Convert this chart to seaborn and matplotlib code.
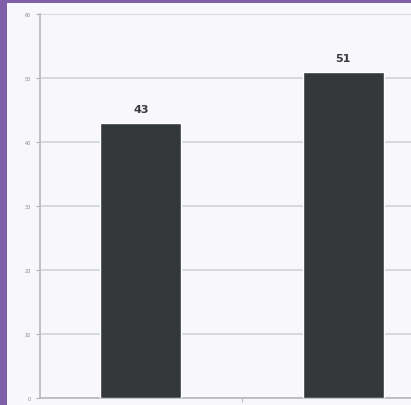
import matplotlib
matplotlib.use("Agg")
import matplotlib.pyplot as plt
import seaborn as sns
import pandas as pd

# data
categories = ["first", "second"]
values = [43, 51]
y_ticks = [0, 10, 20, 30, 40, 50, 60]

sns.set_theme(style="white")
plt.rcParams['font.family'] = ['DejaVu Sans']

W, H = 411, 406
fig = plt.figure(figsize=(W / 100, H / 100), dpi=100)
fig.patch.set_facecolor("#7f60a8")

# white page with purple frame on left and top
page = fig.add_axes([7 / W, 0, 1 - 7 / W, 1 - 4 / H], zorder=0)
page.set_facecolor("#f8f8fc")
page.set_xticks([])
page.set_yticks([])
for s in page.spines.values():
    s.set_visible(False)

# axes runs past the right edge of the picture (cropped chart)
ax = fig.add_axes([39.5 / W, 7 / H, 405 / W, 384 / H], zorder=1)
ax.set_facecolor("none")

df = pd.DataFrame({"category": categories, "value": values})
sns.barplot(data=df, x="category", y="value", color="#34383b",
            width=0.4, saturation=1, ax=ax, zorder=3)

ax.set_ylim(0, 60)
ax.set_xlim(-0.5, 1.5)
ax.set_yticks(y_ticks)
ax.set_yticklabels([str(t) for t in y_ticks], fontsize=3.5, color="#8a8a8a")
ax.tick_params(axis="y", length=3, width=0.8, color="#b0b0b0", pad=3, left=True)
ax.set_xticks([0.5])
ax.set_xticklabels([""])
ax.tick_params(axis="x", length=3, width=0.8, color="#c0c0c4", bottom=True)
ax.set_xlabel("")
ax.set_ylabel("")
ax.yaxis.grid(True, color="#d2d3d7", linewidth=1.2, zorder=0)
ax.set_axisbelow(True)

for side in ["top", "right"]:
    ax.spines[side].set_visible(False)
ax.spines["left"].set_color("#b8b8bc")
ax.spines["left"].set_linewidth(1.2)
ax.spines["bottom"].set_color("#b8b8bc")
ax.spines["bottom"].set_linewidth(1.2)

for i, v in enumerate(values):
    ax.text(i, v + 1.3, str(v), ha="center", va="bottom", fontsize=8,
            fontweight="bold", color="#3a3a3a")

fig.savefig("out.png", dpi=100, facecolor=fig.get_facecolor())
